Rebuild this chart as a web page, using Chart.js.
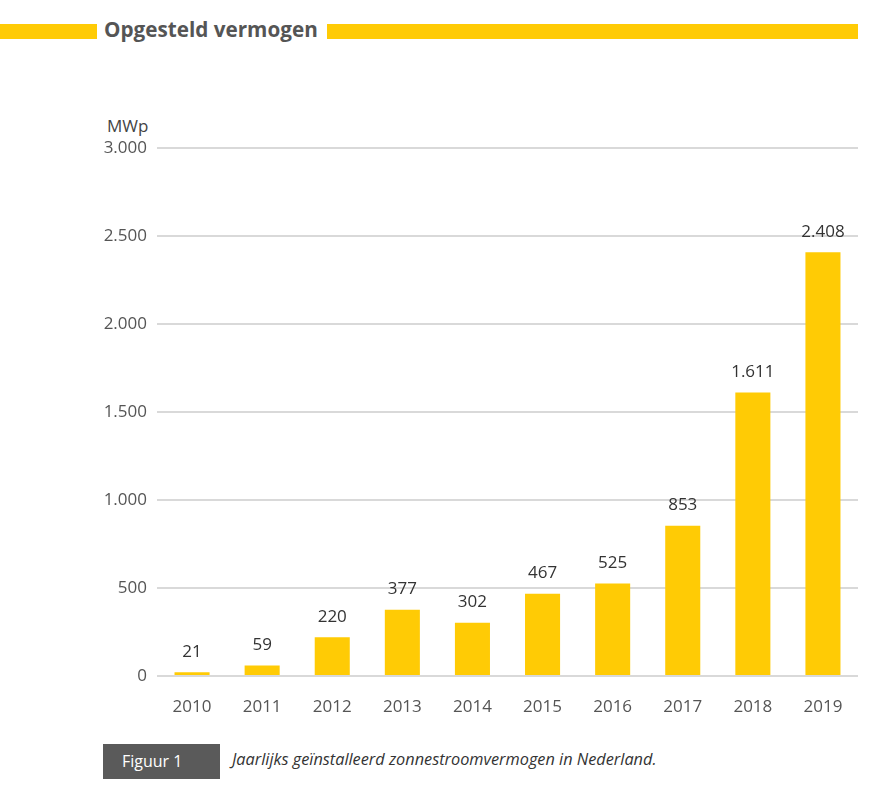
<!DOCTYPE html>
<html>
<head>
<meta charset="utf-8">
<script src="https://cdn.jsdelivr.net/npm/chart.js@4"></script>
<style>
  html, body { margin: 0; padding: 0; background: #fff; }
  body { width: 886px; height: 808px; position: relative; overflow: hidden; font-family: "Open Sans", sans-serif; }
  .bar { position: absolute; top: 24px; height: 15px; background: #ffcb05; }
  #title { position: absolute; left: 104px; top: 15px; font-size: 20.7px; font-weight: 700; color: #555; white-space: nowrap; }
  #unit { position: absolute; left: 107px; top: 114px; font-size: 17px; color: #444; }
  #wrap { position: absolute; left: 0; top: 118px; width: 886px; height: 608px; }
  #fig { position: absolute; left: 103px; top: 744px; width: 117px; height: 35px; background: #5a5a5a; color: #fff; font-size: 16px; line-height: 35px; box-sizing: border-box; padding-left: 19px; }
  #caption { position: absolute; left: 232px; top: 748px; font-size: 16.3px; font-style: italic; color: #333; white-space: nowrap; }
</style>
</head>
<body>
<div class="bar" style="left:0;width:97px"></div>
<div id="title">Opgesteld vermogen</div>
<div class="bar" style="left:327px;width:531px"></div>
<div id="unit">MWp</div>
<div id="wrap"><canvas id="myChart"></canvas></div>
<div id="fig">Figuur 1</div>
<div id="caption">Jaarlijks geïnstalleerd zonnestroomvermogen in Nederland.</div>

<script>
"use strict";

// years and installed capacity (MWp)
const years = ["2010", "2011", "2012", "2013", "2014", "2015", "2016", "2017", "2018", "2019"];
const capacity = [21, 59, 220, 377, 302, 467, 525, 853, 1611, 2408];

// dutch thousands separator
const fmt = function (v) {
  return String(v).replace(/\B(?=(\d{3})+(?!\d))/g, ".");
};

// draws the value above each bar
const valueLabels = {
  id: "valueLabels",
  afterDatasetsDraw(chart) {
    const ctx = chart.ctx;
    const meta = chart.getDatasetMeta(0);
    ctx.save();
    ctx.font = "17px 'Open Sans'";
    ctx.fillStyle = "#333";
    ctx.textAlign = "center";
    ctx.textBaseline = "bottom";
    meta.data.forEach(function (bar, i) {
      ctx.fillText(fmt(capacity[i]), bar.x, bar.y - 12);
    });
    ctx.restore();
  },
};

const ctx = document.getElementById("myChart");

new Chart(ctx, {
  type: "bar",
  data: {
    labels: years,
    datasets: [
      {
        data: capacity,
        backgroundColor: "#ffcb05",
        borderWidth: 0,
        barPercentage: 0.5,
        categoryPercentage: 1,
      },
    ],
  },
  plugins: [valueLabels],
  options: {
    responsive: true,
    maintainAspectRatio: false,
    animation: false,
    layout: { padding: { top: 30, right: 28, left: 0, bottom: 0 } },
    plugins: {
      legend: { display: false },
      tooltip: { enabled: false },
    },
    scales: {
      x: {
        grid: { display: false },
        border: { display: false },
        ticks: { color: "#555", font: { family: "Open Sans", size: 17 }, padding: 13 },
        afterFit(scale) { scale.height = 50; },
      },
      y: {
        min: 0,
        max: 3000,
        ticks: {
          stepSize: 500,
          color: "#555",
          font: { family: "Open Sans", size: 17 },
          padding: 10,
          callback: function (v) { return fmt(v); },
        },
        grid: { color: "#d9d9d9", lineWidth: 2, drawTicks: false },
        border: { display: false },
        afterFit(scale) { scale.width = 157; },
      },
    },
  },
});
</script>
</body>
</html>
